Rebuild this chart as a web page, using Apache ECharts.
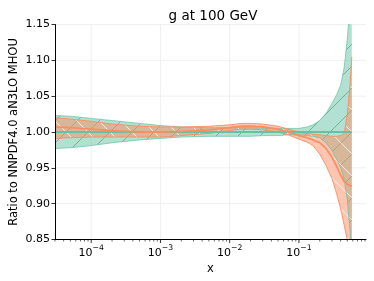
<!DOCTYPE html>
<html>
<head>
<meta charset="utf-8">
<script src="https://cdn.jsdelivr.net/npm/echarts@6/dist/echarts.min.js"></script>
<style>html,body{margin:0;padding:0;background:#fff}#c{width:374px;height:281px}</style>
</head>
<body>
<div id="c"></div>
<script>
// ---- data ----
const xs = [3e-5, 5e-5, 1e-4, 2e-4, 5e-4, 1e-3, 2e-3, 5e-3, 1e-2, 1.5e-2, 2e-2, 3e-2, 5e-2, 7e-2,
            0.1, 0.13, 0.16, 0.2, 0.25, 0.3, 0.35, 0.4, 0.45, 0.5, 0.55, 0.58];

const greenCentral = [1,1,1,1,1,1,1,1,1,1,1,1,1,1,1,1,1,1,1,1,1,1,1,1,1,1];
const greenUpper = [1.023, 1.022, 1.019, 1.016, 1.012, 1.009, 1.007, 1.006, 1.006, 1.006, 1.006, 1.005, 1.005, 1.005,
                    1.005, 1.007, 1.010, 1.016, 1.027, 1.040, 1.052, 1.065, 1.090, 1.130, 1.18, 1.25];
const greenLower = [0.977, 0.978, 0.981, 0.985, 0.989, 0.991, 0.993, 0.994, 0.994, 0.994, 0.994, 0.995, 0.995, 0.996,
                    0.996, 0.995, 0.994, 0.992, 0.984, 0.974, 0.962, 0.950, 0.935, 0.905, 0.86, 0.80];

const orangeCentral = [1.007, 1.006, 1.004, 1.002, 1.000, 1.000, 1.001, 1.003, 1.006, 1.008, 1.008, 1.007, 1.004, 1.000,
                       0.995, 0.992, 0.989, 0.985, 0.976, 0.965, 0.952, 0.940, 0.931, 0.927, 0.925, 0.925];
const orangeUpper = [1.020, 1.018, 1.015, 1.011, 1.008, 1.007, 1.007, 1.008, 1.010, 1.012, 1.012, 1.011, 1.008, 1.004,
                     1.000, 0.998, 0.997, 0.996, 0.995, 0.994, 0.994, 0.995, 0.998, 1.025, 1.07, 1.105];
const orangeLower = [0.991, 0.992, 0.993, 0.993, 0.993, 0.993, 0.995, 0.998, 1.002, 1.004, 1.004, 1.003, 1.000, 0.996,
                     0.990, 0.986, 0.981, 0.969, 0.952, 0.935, 0.914, 0.893, 0.870, 0.849, 0.80, 0.75];

const xMajorTicks = [1e-4, 1e-3, 1e-2, 1e-1];
const xMinorTicks = [3e-5,4e-5,5e-5,6e-5,7e-5,8e-5,9e-5,
                     2e-4,3e-4,4e-4,5e-4,6e-4,7e-4,8e-4,9e-4,
                     2e-3,3e-3,4e-3,5e-3,6e-3,7e-3,8e-3,9e-3,
                     2e-2,3e-2,4e-2,5e-2,6e-2,7e-2,8e-2,9e-2,
                     0.2,0.3,0.4,0.5,0.6,0.7,0.8,0.9];
const yTicks = [0.85, 0.90, 0.95, 1.00, 1.05, 1.10, 1.15];

const X_MIN = 3e-5, X_MAX = 0.93, Y_MIN = 0.85, Y_MAX = 1.15;
const GREEN = '#66c2a5', ORANGE = '#fc8d62';
const FONT = 'DejaVu Sans';

// ---- helpers ----
function pairs(ys) { return xs.map((x, i) => [x, ys[i]]); }
function hatch(dir, color, size, width) {
  const c = document.createElement('canvas');
  c.width = size; c.height = size;
  const g = c.getContext('2d');
  g.strokeStyle = color; g.lineWidth = width;
  g.beginPath();
  for (let k = -1; k <= 1; k++) {
    const o = k * size;
    if (dir === '/') { g.moveTo(o - 1, size + 1); g.lineTo(o + size + 1, -1); }
    else { g.moveTo(o - 1, -1); g.lineTo(o + size + 1, size + 1); }
  }
  g.stroke();
  return { image: c, repeat: 'repeat' };
}
const greenHatch = hatch('/', 'rgba(70,160,125,0.85)', 22, 0.8);
const orangeHatch = hatch('\\', 'rgba(255,236,226,0.95)', 22, 1.0);

function bandSeries(lower, upper, fill) {
  return {
    type: 'custom', silent: true, clip: true, z: 2,
    data: [[xs[0], lower[0]]],
    renderItem: function (params, api) {
      const pts = [];
      for (let i = 0; i < xs.length; i++) pts.push(api.coord([xs[i], upper[i]]));
      for (let i = xs.length - 1; i >= 0; i--) pts.push(api.coord([xs[i], lower[i]]));
      return { type: 'polygon', shape: { points: pts }, style: { fill: fill, stroke: null } };
    }
  };
}
function lineSeries(ys, color, width, opacity) {
  return { type: 'line', data: pairs(ys), symbol: 'none', silent: true, z: 3,
           lineStyle: { color: color, width: width, opacity: opacity } };
}

const chart = echarts.init(document.getElementById('c'), null, { renderer: 'canvas' });

const option = {
  animation: false,
  backgroundColor: '#fff',
  title: {
    text: 'g at 100 GeV', left: 208, top: 4, textAlign: 'center',
    textStyle: { fontFamily: FONT, fontSize: 13.5, fontWeight: 'normal', color: '#000' }
  },
  grid: { left: 55, right: 8, top: 24.5, bottom: 41.5, containLabel: false, outerBoundsMode: 'none' },
  xAxis: {
    type: 'log', logBase: 10, min: X_MIN, max: X_MAX, z: 10,
    name: 'x', nameLocation: 'middle', nameGap: 24, nameMoveOverlap: false,
    nameTextStyle: { fontFamily: FONT, fontSize: 11.5, color: '#000' },
    axisLine: { show: true, lineStyle: { color: '#000', width: 1 } },
    axisTick: { show: false },
    splitLine: { show: false },
    minorTick: { show: false },
    axisLabel: {
      showMinLabel: false, showMaxLabel: false, margin: 5,
      formatter: function (v) {
        const e = Math.round(Math.log10(v));
        return '{b|10}{s|\u2212' + Math.abs(e) + '}';
      },
      rich: {
        b: { fontFamily: FONT, fontSize: 11, color: '#000', lineHeight: 14, verticalAlign: 'bottom' },
        s: { fontFamily: FONT, fontSize: 7.7, color: '#000', lineHeight: 14, verticalAlign: 'top', padding: [0, 0, 5, 0] }
      }
    }
  },
  yAxis: {
    type: 'value', min: Y_MIN, max: Y_MAX, interval: 0.05, z: 10,
    name: 'Ratio to NNPDF4.0 aN3LO MHOU', nameLocation: 'middle', nameGap: 35, nameRotate: 90,
    nameMoveOverlap: false,
    nameTextStyle: { fontFamily: FONT, fontSize: 11.5, color: '#000' },
    axisLine: { show: true, lineStyle: { color: '#000', width: 1 } },
    axisTick: { show: true, inside: false, length: 3.5, lineStyle: { color: '#000', width: 0.8 } },
    splitLine: { show: false },
    axisLabel: {
      margin: 5, fontFamily: FONT, fontSize: 11, color: '#000',
      formatter: v => v.toFixed(2)
    }
  },
  series: [
    // grid lines
    {
      type: 'custom', z: 1, silent: true, clip: false,
      data: xMajorTicks.map(v => [v, Y_MIN]),
      renderItem: function (params, api) {
        const a = api.coord([api.value(0), Y_MIN]), b = api.coord([api.value(0), Y_MAX]);
        return { type: 'line', shape: { x1: a[0], y1: a[1], x2: b[0], y2: b[1] },
                 style: { stroke: '#ececec', lineWidth: 0.8 } };
      }
    },
    {
      type: 'custom', z: 1, silent: true, clip: false,
      data: yTicks.map(v => [X_MIN, v]),
      renderItem: function (params, api) {
        const a = api.coord([X_MIN, api.value(1)]), b = api.coord([X_MAX, api.value(1)]);
        return { type: 'line', shape: { x1: a[0], y1: a[1], x2: b[0], y2: b[1] },
                 style: { stroke: '#ececec', lineWidth: 0.8 } };
      }
    },
    // green band
    bandSeries(greenLower, greenUpper, 'rgba(102,194,165,0.5)'),
    bandSeries(greenLower, greenUpper, greenHatch),
    // orange band
    bandSeries(orangeLower, orangeUpper, 'rgba(252,141,98,0.5)'),
    bandSeries(orangeLower, orangeUpper, orangeHatch),
    // edges
    lineSeries(greenUpper, GREEN, 0.8, 0.9),
    lineSeries(greenLower, GREEN, 0.8, 0.9),
    lineSeries(orangeUpper, ORANGE, 1.0, 0.9),
    lineSeries(orangeLower, ORANGE, 1.0, 0.9),
    // centrals
    lineSeries(greenCentral, GREEN, 2.2, 1),
    lineSeries(orangeCentral, ORANGE, 1.8, 1),
    // x ticks
    {
      type: 'custom', z: 11, silent: true, clip: false,
      data: xMajorTicks.map(v => [v, Y_MIN]),
      renderItem: function (params, api) {
        const a = api.coord([api.value(0), Y_MIN]);
        return { type: 'line', shape: { x1: a[0], y1: a[1], x2: a[0], y2: a[1] + 3.5 },
                 style: { stroke: '#000', lineWidth: 0.8 } };
      }
    },
    {
      type: 'custom', z: 11, silent: true, clip: false,
      data: xMinorTicks.map(v => [v, Y_MIN]),
      renderItem: function (params, api) {
        const a = api.coord([api.value(0), Y_MIN]);
        return { type: 'line', shape: { x1: a[0], y1: a[1], x2: a[0], y2: a[1] + 2 },
                 style: { stroke: '#000', lineWidth: 0.6 } };
      }
    }
  ]
};
chart.setOption(option);
</script>
</body>
</html>
